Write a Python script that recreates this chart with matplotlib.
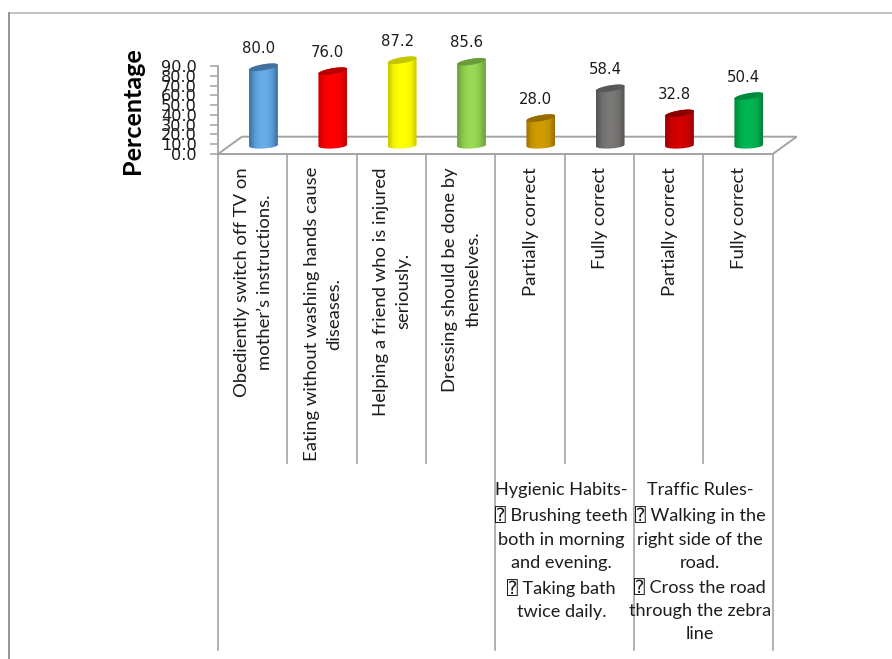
# Knowledge of good habits: 3D-look cylinder chart with a category table below it
import numpy as np
import matplotlib
matplotlib.use("Agg")
import matplotlib.pyplot as plt
from matplotlib.colors import LinearSegmentedColormap
from matplotlib.patches import Polygon

VALUES = [80.0, 76.0, 87.2, 85.6, 28.0, 58.4, 32.8, 50.4]
Y_TICKS = [0, 10, 20, 30, 40, 50, 60, 70, 80, 90]

LABELS = [
    "Obediently switch off TV on\nmother\u2019s instructions.",
    "Eating without washing hands cause\ndiseases.",
    "Helping a friend who is injured\nseriously.",
    "Dressing should be done by\nthemselves.",
    "Partially correct",
    "Fully correct",
    "Partially correct",
    "Fully correct",
]
HYGIENE = ("Hygienic Habits-\n\u2370 Brushing teeth\nboth in morning\nand evening.\n"
           "\u2370 Taking bath\ntwice daily.")
TRAFFIC = ("Traffic Rules-\n\u2370 Walking in the\nright side of the\nroad.\n"
           "\u2370 Cross the road\nthrough the zebra\nline")

# edge, body, highlight, cap colour for each cylinder
BAR_COLORS = [
    ("#3b6f9f", "#5b9bd5", "#66ade8", "#41719c"),
    ("#c80000", "#f00000", "#ff0000", "#b80000"),
    ("#c8c800", "#f5f500", "#ffff00", "#c4c400"),
    ("#6a9f38", "#8bc64c", "#97d955", "#6a9c3c"),
    ("#9a7000", "#c49300", "#cf9c00", "#946c00"),
    ("#545454", "#6f6d6b", "#7a7876", "#575757"),
    ("#980000", "#c60000", "#d20000", "#8c0000"),
    ("#00843c", "#00aa4c", "#00b652", "#008a3e"),
]

GREY = "#a3a3a3"
TEXT = "#1c1c1c"
LABEL_FONT = ["Lato", "DejaVu Sans", "DejaVu Sans Mono"]
LABEL_SIZE = 13.3
BLOCK_SIZE = 13.1
LINE_GAP = 1.53

W, H = 892, 659
fig = plt.figure(figsize=(W / 100, H / 100), dpi=100, facecolor="white")

# overlay in pixel units for the frame and the table below the chart
page = fig.add_axes([0, 0, 1, 1])
page.set_xlim(0, W)
page.set_ylim(H, 0)
page.axis("off")

page.plot([9, W], [12.5, 12.5], color="#bdbdbd", lw=1.3)
page.plot([9, 9], [12.5, H], color="#8c8c8c", lw=1.3)

# plot area: y=0 sits at 154 px, y=90 at 66 px, eight 69.3 px wide categories
X0, X1, Y_BASE = 218, 772.7, 154
PX_Y = 88 / 90
Y_TOP = 110
ax = fig.add_axes([X0 / W, 1 - Y_BASE / H, (X1 - X0) / W, Y_TOP * PX_Y / H],
                  facecolor="none")
ax.set_xlim(0, len(VALUES))
ax.set_ylim(0, Y_TOP)
PX_X = len(VALUES) / (X1 - X0)
PX_V = 1 / PX_Y

for side in ("top", "right", "bottom"):
    ax.spines[side].set_visible(False)
ax.spines["left"].set_color(GREY)
ax.spines["left"].set_linewidth(1.3)
ax.spines["left"].set_bounds(0, 90)
ax.set_xticks([])
ax.set_yticks(Y_TICKS)
ax.set_yticklabels([f"{t:.1f}" for t in Y_TICKS], fontsize=11.6, color=TEXT,
                   family="DejaVu Sans")
ax.tick_params(axis="y", length=5.8, width=1.1, color=GREY, pad=9.4)
ax.set_ylabel("Percentage", family="Lato", fontsize=18.1, fontweight="bold",
              color="black", va="center")
ax.yaxis.set_label_coords(133, 111, transform=page.transData)

# floor of the 3D box
n = len(VALUES)
depth_x, depth_y = 24 * PX_X, 17.3 * PX_V
ax.plot([0, depth_x, n + depth_x, n, 0], [0, depth_y, depth_y, 0, 0],
        color=GREY, lw=1.4, clip_on=False, solid_joinstyle="miter", zorder=1)


def ellipse(cx, cy, half_w, rise, minor, t):
    x = cx + half_w * np.cos(t)
    y = cy + rise * np.cos(t) + minor * np.sin(t)
    return x, y


def cylinder(pos, value, colors):
    edge, body, light, cap = colors
    cx = pos + 0.5 + 10.8 * PX_X
    base = 8.5 * PX_V
    top = base + value
    half_w = 14.4 * PX_X

    # outline: up the left side, over the cap's far rim, down, under the base
    t_top = np.linspace(np.pi, 0, 40)
    t_bot = np.linspace(0, -np.pi, 40)
    xt, yt = ellipse(cx, top, half_w, 2.4 * PX_V, 3 * PX_V, t_top)
    xb, yb = ellipse(cx, base, half_w, 0.8 * PX_V, 3 * PX_V, t_bot)
    outline = Polygon(np.column_stack([np.r_[xt, xb], np.r_[yt, yb]]),
                      closed=True, transform=ax.transData, fc="none", ec="none")
    ax.add_patch(outline)

    cmap = LinearSegmentedColormap.from_list(
        "side", [edge, body, light, light, body, edge])
    shade = np.linspace(0, 1, 80).reshape(1, -1)
    im = ax.imshow(shade, cmap=cmap, aspect="auto", zorder=3,
                   extent=(cx - half_w, cx + half_w, 0, top + 6 * PX_V))
    im.set_clip_path(outline)

    t_cap = np.linspace(0, 2 * np.pi, 80)
    xc, yc = ellipse(cx, top, half_w, 2.4 * PX_V, 3 * PX_V, t_cap)
    ax.fill(xc, yc, color=cap, lw=0, zorder=4)

    ax.annotate(f"{value:.1f}", xy=(cx, top), xytext=(-5 * 0.72, 19 * 0.72),
                textcoords="offset points", ha="center", va="center",
                fontsize=10.7, color=TEXT, family="DejaVu Sans", zorder=5)


for i, (val, cols) in enumerate(zip(VALUES, BAR_COLORS)):
    cylinder(i, val, cols)
ax.set_xlim(0, n)
ax.set_ylim(0, Y_TOP)

# table rules: the grouped columns run further down
col_w = (X1 - X0) / n
for i in range(n + 1):
    bottom = 650 if i in (0, 4, 6, 8) else 463
    page.plot([X0 + i * col_w] * 2, [Y_BASE, bottom], color=GREY, lw=1.2)

for i, label in enumerate(LABELS):
    page.text(X0 + (i + 0.5) * col_w + 1, 167, label, rotation=90, ha="center", va="top",
              multialignment="center", family=LABEL_FONT, fontsize=LABEL_SIZE,
              color=TEXT, linespacing=LINE_GAP)

for cx, block in ((561.5, HYGIENE), (700, TRAFFIC)):
    page.text(cx, 482, block, ha="center", va="top", multialignment="center",
              family=LABEL_FONT, fontsize=BLOCK_SIZE, color=TEXT, linespacing=1.56)

fig.savefig("out.png", dpi=100)
